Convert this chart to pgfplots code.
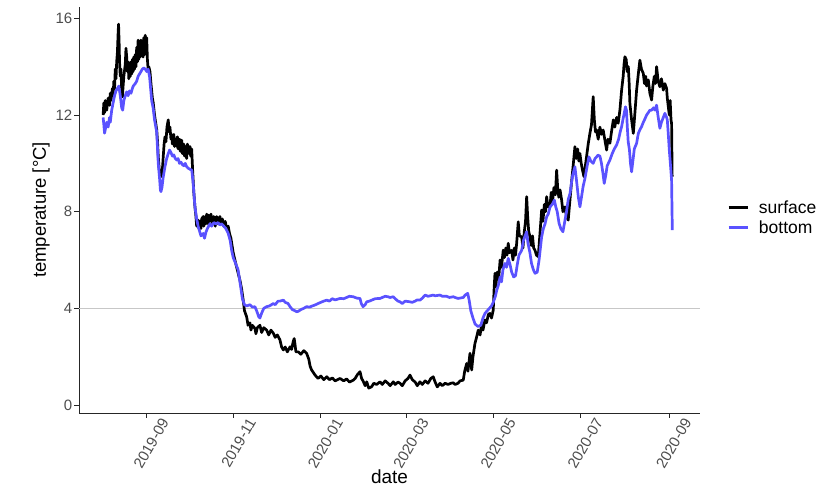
\documentclass[border=0pt]{standalone}
\usepackage{fontspec}
\setmainfont{Liberation Sans}
\usepackage{pgfplots}
\pgfplotsset{compat=1.18}
\definecolor{bottomblue}{RGB}{90,82,255}
\definecolor{ticklab}{RGB}{77,77,77}
\begin{document}
\begin{tikzpicture}
\path[use as bounding box] (-79bp,-75bp) rectangle (757bp,413bp);
\begin{axis}[
 scale only axis, width=621bp, height=406bp,
 xmin=-47.4, xmax=387.5, ymin=-0.33, ymax=16.47,
 axis x line=bottom, axis y line=left,
 axis line style={-, line width=1bp, color=black!85},
 xtick={0,61,122,182,243,304,366},
 xticklabels={2019-09,2019-11,2020-01,2020-03,2020-05,2020-07,2020-09},
 ytick={0,4,8,12,16},
 tick align=outside, major tick length=4.5bp,
 tick style={line width=1bp, color=black!85},
 /pgf/number format/assume math mode=true,
 xticklabel style={xshift=13bp, yshift=3bp, rotate=60, anchor=north east, font=\fontsize{15bp}{17bp}\selectfont, text=ticklab, inner sep=1.5bp},
 yticklabel style={font=\fontsize{15bp}{17bp}\selectfont, text=ticklab, inner sep=2bp},
 xlabel={date}, ylabel={temperature [°C]},
 xlabel style={font=\fontsize{19bp}{22bp}\selectfont, at={(axis description cs:0.5,-0.157)}, anchor=center},
 ylabel style={font=\fontsize{18.5bp}{22bp}\selectfont, at={(axis description cs:-0.0612,0.5)}, anchor=center},
 legend style={at={(axis description cs:1.0435,0.4815)}, anchor=west, draw=none, fill=none, font=\fontsize{17.5bp}{20bp}\selectfont, row sep=4bp, inner sep=0pt, nodes={inner sep=1bp}},
 legend cell align=left,
 legend image code/.code={\draw[#1, line width=2.8bp] (0bp,0bp) -- (19bp,0bp); \path (28bp,0bp);},
]
\addplot[forget plot, color=black!22, line width=0.8bp] coordinates {(-47.4,4) (387.5,4)};
\addplot[black, line width=2.7bp, line join=round] coordinates {
(-30.5,12.0) (-30,12.5) (-29.5,12.1) (-29,12.6) (-28,12.2) (-27,12.7) (-26,12.4) (-25.5,12.9) (-25,12.6) (-24,13.1)
(-23.5,12.8) (-23,13.4) (-22.5,13.1) (-22,13.9) (-21.5,13.5) (-21,14.2) (-20.5,14.6) (-20,15.4) (-19.7,15.76) (-19.3,15.0)
(-19,14.2) (-18.5,13.6) (-18,13.9) (-17.5,13.0) (-17,12.75) (-16.5,13.2) (-16,13.6) (-15,14.1) (-14.5,14.76) (-14,14.4)
(-13.5,13.8) (-13,14.2) (-12.5,13.5) (-12,13.9) (-11.5,13.6) (-11,14.2) (-10.5,13.7) (-10,14.3) (-9.5,13.8) (-9,14.4)
(-8.5,13.9) (-8,14.5) (-7.5,14.0) (-7,14.8) (-6.5,14.2) (-6,15.1) (-5.5,14.3) (-5,15.0) (-4.5,14.4) (-4,15.1)
(-3.5,14.5) (-3,15.0) (-2.5,14.4) (-2,15.2) (-1.5,14.5) (-1,15.3) (-0.5,14.6) (0,15.2) (0.5,14.3) (1,13.9)
(1.5,14.0) (2.3,13.8) (3,13.3) (4,12.7) (4.6,12.5) (5.5,12.0) (6.5,11.6) (7,11.4) (7.5,11.0) (8.1,10.3)
(8.7,9.8) (9.3,9.5) (10,9.7) (10.7,9.45) (11.5,10.2) (12.2,10.8) (12.8,11.1) (13.5,10.9) (14.2,11.5) (15.1,11.8)
(15.7,11.3) (16.3,11.5) (17,11.0) (17.5,11.2) (18,10.8) (19,11.2) (19.5,10.7) (20,11.0) (21,10.7) (21.5,11.1)
(22,10.6) (23,11.0) (23.5,10.5) (24.5,10.96) (25,10.4) (26,10.8) (26.5,10.3) (27,10.7) (28,10.2) (28.5,10.8)
(29,10.4) (30.3,10.7) (30.8,10.3) (31.5,10.6) (32.2,9.7) (33,8.8) (33.8,8.2) (34.5,7.8) (35,7.4) (36.1,7.65)
(36.6,7.3) (37.2,7.6) (38,7.3) (38.5,7.7) (39.6,7.8) (40,7.4) (41,7.8) (41.5,7.5) (42,7.9) (43,7.5)
(43.5,7.85) (44.3,7.6) (45,7.9) (46,7.5) (47,7.8) (48,7.4) (49,7.8) (50,7.5) (51.3,7.8) (52,7.5)
(53,7.7) (54,7.4) (55,7.6) (56,7.3) (57.1,7.4) (58,7.1) (59,6.9) (60.6,6.3) (61.8,6.0) (63,5.7)
(65.3,5.17) (66.5,4.8) (67.6,4.34) (68.5,3.9) (70,3.65) (71,3.3) (72.3,3.4) (73,3.1) (74,3.3) (75.8,3.17)
(76.5,2.95) (77.5,3.2) (79.3,3.3) (80.5,3.0) (82,3.2) (84,3.1) (85.5,2.9) (87,3.1) (88.7,2.97) (90,2.8)
(91.5,2.9) (93.3,2.7) (94.5,2.4) (95.7,2.28) (97,2.4) (98.5,2.2) (100.4,2.41) (101.5,2.3) (102.5,2.6) (103.3,2.75)
(103.9,2.5) (104.5,2.2) (106.2,2.2) (108,2.1) (110,2.25) (112,2.14) (113.5,1.9) (114.5,1.6) (115.5,1.45) (117.9,1.24)
(120,1.1) (122,1.2) (124,1.05) (126.1,1.17) (128,1.05) (130,1.12) (132,1.0) (135.4,1.1) (138,1.0) (140,1.08)
(142,0.95) (144.7,1.03) (146,1.1) (147.5,1.25) (149.4,1.38) (150.5,1.1) (151.5,1.0) (153,0.8) (154.1,0.96) (155.5,0.7)
(157.6,0.76) (159,0.9) (161,0.85) (163.4,0.96) (165,0.85) (167,1.0) (169,0.9) (170.5,0.8) (172.7,0.96) (174,0.85)
(176,0.95) (177.4,0.9) (179,0.8) (181,1.0) (183,1.1) (184.4,1.24) (186,1.05) (188,0.95) (189.5,0.8) (191.4,0.96)
(193,0.85) (195,1.0) (197,0.9) (199,1.1) (200.7,1.17) (202,0.95) (203.5,0.75) (205.4,0.9) (207,0.8) (209,0.9)
(211,0.85) (213,0.9) (214.7,0.92) (216,0.85) (218,0.9) (219.5,1.0) (221.7,1.03) (222.7,1.4) (224.1,1.72) (225,1.4)
(226.4,2.14) (227.6,1.45) (228.5,2.0) (229.9,2.55) (231,2.8) (232.2,3.1) (233.5,2.9) (234.6,3.38) (235.5,3.1) (236.9,3.52)
(238,3.4) (239.3,3.75) (240.4,3.79) (241.5,3.6) (242.7,3.93) (243.3,4.8) (243.9,5.45) (244.5,4.9) (245.5,5.5) (246.5,5.2)
(247.5,6.0) (248.5,5.7) (249.7,6.41) (250.5,6.1) (251.5,6.5) (252.3,6.2) (253.2,6.69) (254,6.3) (255.6,6.4) (256.5,6.0)
(257.5,6.5) (258.3,6.2) (259.1,6.69) (260.2,7.58) (261,7.0) (262.6,6.96) (263.5,6.5) (264.5,7.2) (265.3,7.6) (266.1,8.62)
(266.8,7.8) (267.5,7.2) (268.4,6.96) (269.3,6.6) (270.2,7.0) (271,6.5) (271.9,6.41) (273,6.2) (274.2,6.14) (275.3,7.0)
(276.6,8.07) (277.5,7.6) (278.5,8.3) (279.3,8.0) (280.1,8.62) (281,8.2) (282.4,8.2) (283.3,8.8) (284.2,8.4) (285.2,9.0)
(286.2,8.7) (287.1,9.72) (287.8,9.0) (288.6,8.6) (289.5,8.9) (290.6,8.48) (291.5,8.0) (292.9,8.2) (294,7.8) (295.2,7.65)
(296.3,8.4) (297.5,9.2) (298.5,9.8) (299.9,10.69) (300.8,10.2) (301.8,10.6) (302.6,10.1) (303.4,10.41) (304.3,10.0) (305.3,9.7)
(306.2,9.45) (307,9.8) (308.1,10.3) (309.2,10.8) (310.4,11.24) (311.5,11.6) (312.7,12.76) (313.5,11.8) (314.3,11.3) (315.1,11.38)
(316.2,11.0) (317.4,11.5) (318.5,11.2) (319.7,11.38) (320.9,10.96) (322.1,10.55) (323,11.0) (324.4,10.83) (325.5,11.3) (326.8,11.8)
(327.8,11.5) (329.1,11.9) (330.2,11.66) (331.4,12.2) (332.6,13.03) (333.7,13.6) (334.3,14.1) (334.9,14.41) (335.8,14.3) (336.5,13.8)
(337.3,14.0) (337.9,13.3) (338.4,12.48) (339.6,11.8) (340.8,11.24) (341.8,12.0) (343.1,13.03) (344.3,13.7) (345.4,14.27) (346.5,13.9)
(347.8,13.72) (348.6,13.3) (349.5,13.6) (350.1,13.2) (351.3,13.45) (352.4,12.9) (353.6,12.62) (354.5,13.2) (355.5,13.6) (356.3,13.3)
(357.1,14.0) (358.2,13.4) (359.4,13.17) (360.5,13.5) (361.8,13.03) (362.9,13.3) (364.1,13.1) (364.6,12.7) (365.3,12.34) (366.0,12.0)
(366.6,12.6) (367.2,11.8) (367.6,11.65) (368.0,9.45)
};
\addlegendentry{surface}
\addplot[bottomblue, line width=2.7bp, line join=round] coordinates {
(-30.5,11.9) (-30,11.6) (-29.5,11.25) (-29,11.4) (-28,11.7) (-27,11.5) (-26,11.9) (-25.5,11.7) (-24.5,12.2) (-23.5,12.5)
(-22.5,12.8) (-21.5,13.0) (-20.5,13.1) (-19.5,13.2) (-18.5,12.8) (-17.5,12.3) (-16.8,12.2) (-16,12.6) (-15,12.8) (-14,12.96)
(-13,12.8) (-12,13.0) (-11,12.9) (-10,13.1) (-9.4,13.2) (-8,13.3) (-7,13.4) (-6,13.6) (-5,13.7) (-4,13.8)
(-3,13.9) (-2,13.95) (-1,13.9) (0,13.8) (1,13.9) (2,13.6) (3.5,12.6) (4.5,12.3) (5.5,11.8) (7,11.3)
(8.1,10.0) (9,9.4) (9.6,8.9) (10,8.83) (10.7,9.0) (11.5,9.4) (12.8,9.86) (14,10.2) (15.1,10.4) (16,10.55)
(17,10.45) (18,10.3) (19,10.35) (20,10.2) (21,10.14) (22,10.2) (23,10.0) (24,10.05) (25,9.95) (26,9.9)
(27,10.0) (28,9.86) (29,9.8) (30.5,9.75) (31.6,9.72) (32.5,9.2) (33.8,8.2) (35,7.7) (36.1,7.38) (37,7.2)
(38,7.0) (39.6,7.1) (40.5,6.9) (41.5,7.15) (42.5,7.3) (44.3,7.5) (45.5,7.4) (47,7.55) (48.5,7.5) (50,7.55)
(51.3,7.45) (52.5,7.5) (54,7.4) (55.5,7.3) (57.1,7.1) (58.5,6.8) (59.5,6.4) (60.6,6.1) (62,5.9) (64,5.6)
(65.8,4.9) (67,4.4) (68.5,4.15) (70,4.1) (72.3,4.15) (74,4.05) (75.8,4.07) (77,3.9) (78.5,3.65) (79.3,3.6)
(80.5,3.8) (82,4.0) (84,4.07) (86,4.1) (88.7,4.2) (90,4.15) (92,4.3) (93.3,4.3) (95.7,4.34) (97,4.25)
(99,4.2) (100.4,4.07) (102,3.95) (103.9,3.9) (105,3.86) (106.2,3.88) (108,3.95) (110,4.0) (112,4.07) (114,4.05)
(116,4.1) (117.9,4.14) (120,4.2) (122,4.25) (124,4.3) (126.1,4.34) (128,4.3) (130,4.4) (132,4.35) (135.4,4.41)
(138,4.4) (140,4.45) (142,4.5) (144.7,4.48) (146,4.45) (147.5,4.42) (149.4,4.41) (150.3,4.2) (151.5,4.07) (153,4.15)
(154.1,4.27) (156,4.3) (158,4.35) (160,4.4) (163.4,4.41) (165,4.45) (167,4.5) (169,4.48) (170.5,4.45) (172.7,4.48)
(174,4.4) (176,4.3) (177.4,4.27) (179,4.2) (181,4.3) (184.4,4.27) (186,4.25) (188,4.3) (189.5,4.35) (191.4,4.34)
(193,4.42) (195,4.55) (197,4.5) (200.7,4.55) (202,4.52) (205.4,4.55) (207,4.5) (210,4.5) (212,4.45) (214.7,4.48)
(216,4.45) (218,4.41) (221.7,4.45) (223,4.55) (224.8,4.62) (225.8,4.35) (227,3.9) (228.5,3.6) (230,3.35) (232,3.25)
(234,3.3) (235.5,3.6) (237,3.8) (238.5,3.9) (240,4.0) (241.5,4.1) (242.7,4.25) (244.2,4.5) (245.2,4.76) (246.5,5.0)
(247.5,5.3) (248.5,5.1) (249.5,5.6) (250.9,5.86) (252,5.7) (253.2,6.07) (254.5,5.8) (255.6,5.5) (257,5.3) (258.3,5.35)
(259.5,5.8) (260.7,6.2) (262.6,6.4) (263.8,6.8) (265,7.0) (266.1,7.17) (267,6.7) (268.4,6.3) (269.5,5.86) (270.8,5.6)
(272,5.45) (273.5,5.5) (274.8,6.0) (276.6,6.96) (277.8,7.3) (279,7.5) (280.1,7.79) (281.2,7.9) (282.5,8.2) (284,8.3)
(285.5,8.48) (286.5,8.2) (287.5,8.0) (288.8,7.52) (290,7.3) (291.5,7.17) (292.5,7.5) (294,8.0) (295.2,8.5) (296.5,8.76)
(297.5,9.2) (298.3,9.5) (299.9,9.86) (301,9.3) (302.3,8.6) (303.4,8.2) (304.5,8.6) (305.6,9.03) (307,9.4) (308.5,9.9)
(309.7,10.27) (311,10.1) (312.7,10.0) (314,10.2) (315.1,10.27) (316,10.34) (317.4,10.3) (318.5,10.0) (319.5,9.6) (320.4,9.17)
(321.5,9.5) (322.5,9.9) (324.4,10.14) (326,10.4) (327.5,10.6) (329.1,10.76) (330.5,11.0) (331.6,11.3) (332.6,11.52) (333.5,11.8)
(334.5,12.1) (335.3,12.34) (336,12.2) (336.6,11.5) (337.2,10.9) (338.1,10.55) (338.8,10.0) (339.6,9.65) (340.5,10.1) (341.5,10.6)
(343.1,10.83) (344.3,11.24) (345.5,11.4) (346.6,11.52) (347.8,11.7) (349,11.85) (350.1,12.0) (351.3,12.1) (352.4,12.2) (353.6,12.2)
(355,12.3) (356,12.2) (357.1,12.41) (358,12.0) (359.4,11.45) (360.5,11.7) (361.8,11.9) (362.9,12.07) (364.1,11.9) (364.6,11.8)
(365.3,11.2) (366.0,10.55) (367.0,9.8) (367.6,9.3) (368.1,7.24)
};
\addlegendentry{bottom}
\end{axis}
\end{tikzpicture}
\end{document}
